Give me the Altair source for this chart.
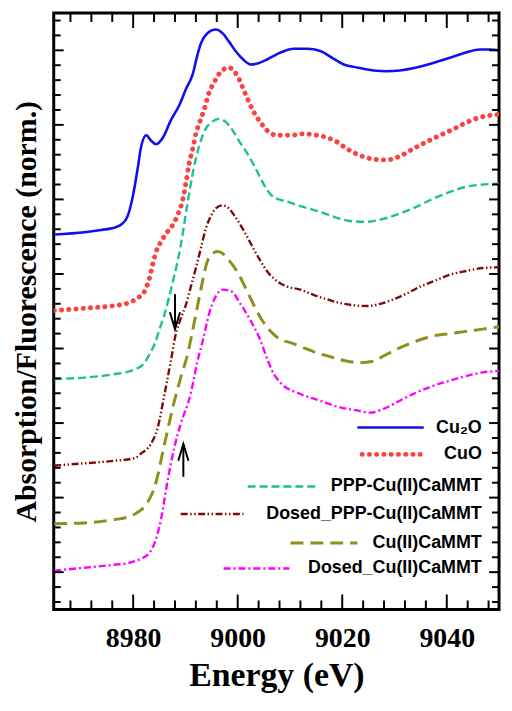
import altair as alt
import pandas as pd

# ---------------- data ----------------
series_names = ["Cu₂O", "CuO", "PPP-Cu(II)CaMMT", "Dosed_PPP-Cu(II)CaMMT",
                "Cu(II)CaMMT", "Dosed_Cu(II)CaMMT"]

cu2o_e = [8964.9, 8970.7, 8973.9, 8976.8, 8978.7, 8979.9, 8980.9, 8981.5, 8982.5, 8983.4,
          8984.4, 8985.7, 8987.2, 8988.8, 8990.1, 8991.4, 8992.3, 8993.0, 8994.2, 8995.8,
          8997.1, 8998.3, 8999.7, 9001.0, 9002.5, 9003.6, 9005.7, 9008.2, 9010.7, 9013.3,
          9015.8, 9018.3, 9020.3, 9022.8, 9026.0, 9028.5, 9031.0, 9034.2, 9037.4, 9040.6,
          9043.7, 9046.3, 9048.2, 9050.0]
cu2o_y = [5.03, 5.06, 5.09, 5.13, 5.24, 5.53, 5.93, 6.20, 6.36, 6.29,
          6.24, 6.33, 6.56, 6.76, 6.98, 7.18, 7.44, 7.60, 7.73, 7.78,
          7.73, 7.62, 7.48, 7.38, 7.31, 7.32, 7.38, 7.47, 7.52, 7.52,
          7.49, 7.39, 7.31, 7.27, 7.23, 7.22, 7.23, 7.27, 7.33, 7.40,
          7.47, 7.51, 7.51, 7.50]

cuo_e = [8964.9, 8970.7, 8975.8, 8979.0, 8980.9, 8982.2, 8983.1, 8983.7, 8984.4, 8985.3,
         8986.6, 8987.6, 8988.5, 8989.5, 8990.1, 8990.7, 8991.4, 8992.0, 8992.8, 8993.6,
         8994.5, 8995.5, 8996.4, 8997.4, 8998.3, 8999.3, 9000.3, 9001.2, 9002.2, 9003.1,
         9004.4, 9005.7, 9007.6, 9010.1, 9012.6, 9015.2, 9017.1, 9019.0, 9020.9, 9023.4,
         9026.0, 9028.5, 9031.0, 9033.6, 9036.1, 9038.7, 9041.2, 9043.7, 9046.3, 9050.0]
cuo_y = [4.01, 4.04, 4.07, 4.11, 4.18, 4.27, 4.44, 4.62, 4.80, 4.93,
         5.07, 5.16, 5.29, 5.50, 5.72, 5.98, 6.18, 6.38, 6.55, 6.71,
         6.93, 7.07, 7.18, 7.25, 7.27, 7.22, 7.11, 6.96, 6.80, 6.67,
         6.53, 6.42, 6.36, 6.36, 6.38, 6.36, 6.33, 6.27, 6.18, 6.09,
         6.04, 6.03, 6.08, 6.18, 6.27, 6.36, 6.44, 6.53, 6.60, 6.64]

ppp_e = [8964.9, 8970.7, 8975.8, 8980.3, 8982.2, 8983.1, 8984.1, 8985.0, 8986.0, 8987.6,
         8989.1, 8990.4, 8991.4, 8992.0, 8993.0, 8993.9, 8994.9, 8996.4, 8997.7, 8999.0,
         9000.3, 9001.8, 9003.1, 9004.4, 9005.7, 9006.9, 9009.5, 9012.0, 9014.5, 9017.1,
         9019.6, 9021.5, 9024.7, 9027.9, 9031.0, 9034.2, 9037.4, 9040.6, 9043.7, 9046.9,
         9050.0]
ppp_y = [3.09, 3.11, 3.15, 3.22, 3.31, 3.42, 3.56, 3.75, 3.96, 4.40,
         4.88, 5.45, 5.85, 6.05, 6.30, 6.45, 6.53, 6.58, 6.54, 6.43,
         6.28, 6.12, 5.96, 5.78, 5.62, 5.53, 5.47, 5.41, 5.36, 5.30,
         5.24, 5.21, 5.20, 5.24, 5.31, 5.40, 5.51, 5.60, 5.67, 5.70,
         5.71]

dppp_e = [8964.9, 8970.7, 8975.8, 8980.3, 8981.5, 8983.4, 8984.7, 8986.0, 8987.2, 8988.2,
          8989.1, 8990.1, 8991.0, 8992.0, 8993.0, 8993.9, 8994.9, 8995.8, 8997.1, 8998.3,
          8999.3, 9000.6, 9001.8, 9003.1, 9004.4, 9005.7, 9007.6, 9009.5, 9012.0, 9014.5,
          9017.1, 9019.6, 9022.2, 9024.7, 9027.3, 9029.8, 9032.4, 9034.9, 9037.4, 9040.6,
          9043.7, 9046.9, 9050.0]
dppp_y = [1.93, 1.96, 1.99, 2.03, 2.09, 2.22, 2.44, 2.89, 3.33, 3.71,
          3.90, 4.09, 4.32, 4.58, 4.86, 5.11, 5.28, 5.38, 5.42, 5.38,
          5.29, 5.15, 5.00, 4.83, 4.67, 4.53, 4.40, 4.33, 4.29, 4.22,
          4.16, 4.11, 4.08, 4.07, 4.10, 4.16, 4.24, 4.33, 4.40, 4.49,
          4.54, 4.58, 4.59]

cumm_e = [8964.9, 8970.7, 8975.8, 8979.0, 8981.0, 8982.2, 8983.1, 8984.1, 8986.0, 8987.9,
          8989.1, 8990.4, 8991.2, 8992.0, 8993.0, 8994.2, 8995.0, 8996.1, 8997.0, 8998.0,
          8999.9, 9001.8, 9003.1, 9004.4, 9005.7, 9006.9, 9008.2, 9010.1, 9012.6, 9015.2,
          9017.7, 9020.3, 9023.1, 9026.0, 9027.9, 9031.0, 9034.2, 9037.4, 9040.6, 9043.7,
          9046.9, 9050.0]
cumm_y = [1.15, 1.16, 1.20, 1.24, 1.31, 1.38, 1.48, 1.64, 2.22, 2.80,
          3.11, 3.42, 3.68, 3.96, 4.31, 4.67, 4.76, 4.80, 4.78, 4.71,
          4.53, 4.27, 4.08, 3.91, 3.78, 3.69, 3.62, 3.58, 3.51, 3.44,
          3.39, 3.34, 3.31, 3.33, 3.40, 3.51, 3.60, 3.67, 3.70, 3.73,
          3.76, 3.79]

dcu_e = [8964.9, 8970.7, 8976.4, 8979.5, 8981.5, 8983.0, 8983.8, 8985.3, 8986.6, 8987.9,
         8989.1, 8991.0, 8992.3, 8993.3, 8994.5, 8995.8, 8997.1, 8998.7, 9000.6, 9002.5,
         9004.4, 9005.7, 9006.9, 9008.2, 9012.0, 9015.8, 9019.6, 9022.8, 9025.3, 9027.9,
         9031.0, 9034.2, 9037.4, 9040.6, 9043.7, 9046.9, 9050.0]
dcu_y = [0.52, 0.56, 0.60, 0.63, 0.68, 0.75, 0.84, 1.20, 1.73, 2.18,
         2.49, 2.89, 3.33, 3.60, 3.96, 4.20, 4.29, 4.27, 4.09, 3.87,
         3.60, 3.35, 3.16, 3.04, 2.89, 2.80, 2.71, 2.67, 2.64, 2.69,
         2.80, 2.91, 3.00, 3.07, 3.13, 3.18, 3.20]

series_e = [cu2o_e, cuo_e, ppp_e, dppp_e, cumm_e, dcu_e]
series_y = [cu2o_y, cuo_y, ppp_y, dppp_y, cumm_y, dcu_y]

# axis tick values
x_label_values = [8980, 9000, 9020, 9040]
x_minor_values = [v for v in range(8968, 9050, 4) if v not in x_label_values]
y_major_values = [0.5, 1.5, 2.5, 3.5, 4.5, 5.5, 6.5, 7.5]
y_minor_values = [round(0.1 + 0.2 * i, 2) for i in range(40)
                  if round(0.1 + 0.2 * i, 2) not in y_major_values]

# legend layout (energy / y units)
legend_line_x0 = [9022.9, 9023.8, 9001.9, 8989.1, 9010.1, 8997.3]
legend_line_x1 = [9035.6, 9035.8, 9014.9, 9001.1, 9022.9, 9009.9]
legend_y = [2.44, 2.08, 1.65, 1.28, 0.89, 0.55]
legend_label_x = 9046.7

# arrows (energy, tail y, tip y)
arrow_down = (8988.0, 4.23, 3.76)
arrow_up = (8989.6, 1.78, 2.22)

# ---------------- styles ----------------
styles = [
    dict(color="#1010ee", strokeWidth=2.6),
    dict(color="#ff4040", strokeWidth=5, strokeDash=[0.1, 7.2], strokeCap="round"),
    dict(color="#1dbf9b", strokeWidth=2.4, strokeDash=[8, 4]),
    dict(color="#7f0a0a", strokeWidth=2.4, strokeDash=[7, 2.5, 1.5, 2.5, 1.5, 2.5]),
    dict(color="#8f8f1f", strokeWidth=3, strokeDash=[13, 7]),
    dict(color="#ff00ff", strokeWidth=2.4, strokeDash=[7, 3, 2, 3]),
]

W, H = 448, 600
xs = alt.Scale(domain=[8964.8, 9050.0], nice=False, zero=False)
ys = alt.Scale(domain=[0, 8], nice=False, zero=False)

x_axis = alt.Axis(values=x_label_values, format="d", labelFont="Liberation Serif",
                  labelFontWeight="bold", labelFontSize=28, labelColor="black",
                  labelPadding=15, ticks=False, domain=False, grid=False,
                  title="Energy (eV)", titleFont="Liberation Serif", titleFontWeight="bold",
                  titleFontSize=34, titleColor="black", titlePadding=7)
y_axis = alt.Axis(labels=False, ticks=False, domain=False, grid=False,
                  title="Absorption/Fluorescence (norm.)", titleFont="Liberation Serif",
                  titleFontWeight="bold", titleFontSize=30, titleColor="black",
                  titlePadding=12)


def X(field="x"):
    return alt.X(f"{field}:Q", scale=xs, axis=x_axis)


def Y(field="y"):
    return alt.Y(f"{field}:Q", scale=ys, axis=y_axis)


layers = []

# curves
for name, e, v, st in zip(series_names, series_e, series_y, styles):
    df = pd.DataFrame({"x": e, "y": v})
    layers.append(alt.Chart(df).mark_line(clip=True, interpolate="monotone", **st)
                  .encode(x=X(), y=Y()))

# legend samples
for i, st in enumerate(styles):
    df = pd.DataFrame({"x": [legend_line_x0[i], legend_line_x1[i]],
                       "y": [legend_y[i], legend_y[i]]})
    layers.append(alt.Chart(df).mark_line(**st).encode(x=X(), y=Y()))

# legend labels
lab_df = pd.DataFrame({"x": [legend_label_x] * len(series_names), "y": legend_y,
                       "label": series_names})
layers.append(alt.Chart(lab_df).mark_text(align="right", baseline="middle",
                                          font="Liberation Sans", fontWeight="bold",
                                          fontSize=18, color="black")
              .encode(x=X(), y=Y(), text="label:N"))

# arrows
arr_df = pd.DataFrame({"x": [arrow_down[0], arrow_up[0]],
                       "y": [arrow_down[1], arrow_up[1]],
                       "y2": [arrow_down[2], arrow_up[2]]})
layers.append(alt.Chart(arr_df).mark_rule(color="black", strokeWidth=2)
              .encode(x=X(), y=Y(), y2="y2:Q"))
layers.append(alt.Chart(pd.DataFrame({"x": [arrow_down[0]], "y": [arrow_down[2]]}))
              .mark_point(shape="M -0.3 -1 L 0 0 L 0.3 -1", filled=False, size=1156,
                          strokeWidth=2, color="black", opacity=1)
              .encode(x=X(), y=Y()))
layers.append(alt.Chart(pd.DataFrame({"x": [arrow_up[0]], "y": [arrow_up[2]]}))
              .mark_point(shape="M -0.3 1 L 0 0 L 0.3 1", filled=False, size=1156,
                          strokeWidth=2, color="black", opacity=1)
              .encode(x=X(), y=Y()))


# inward ticks on all four sides
def xticks(values, length):
    df = pd.DataFrame({"x": values})
    base = alt.Chart(df).mark_rule(color="black", strokeWidth=2)
    return [base.encode(x=X(), y=alt.value(H), y2=alt.value(H - length)),
            base.encode(x=X(), y=alt.value(0), y2=alt.value(length))]


def yticks(values, length):
    df = pd.DataFrame({"y": values})
    base = alt.Chart(df).mark_rule(color="black", strokeWidth=2)
    return [base.encode(y=Y(), x=alt.value(0), x2=alt.value(length)),
            base.encode(y=Y(), x=alt.value(W), x2=alt.value(W - length))]


layers += xticks(x_label_values, 15) + xticks(x_minor_values, 9)
layers += yticks(y_major_values, 10) + yticks(y_minor_values, 7)

chart = (alt.layer(*layers)
         .properties(width=W, height=H, background="white",
                     padding={"left": 4, "top": 2, "right": 4, "bottom": 0})
         .configure_view(stroke="black", strokeWidth=3))

chart.save("out.html", embed_options={"renderer": "svg", "actions": False})
